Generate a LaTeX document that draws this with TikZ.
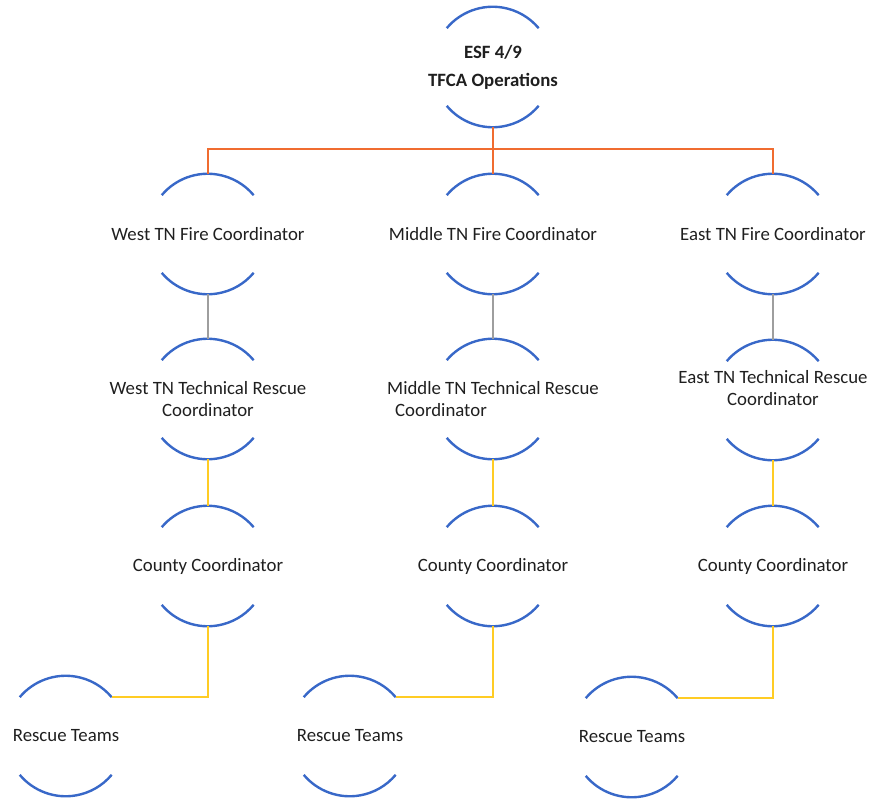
\documentclass[tikz,border=0pt]{standalone}
\usepackage{fontspec}
\setmainfont{Carlito}
\usetikzlibrary{positioning}
\definecolor{arcblue}{RGB}{56,104,200}
\definecolor{busorange}{RGB}{240,108,48}
\definecolor{linkgray}{RGB}{158,158,158}
\definecolor{linkyellow}{RGB}{255,204,36}

\begin{document}
\begin{tikzpicture}[x=0.5pt,y=-0.5pt,
   ring/.style={circle,minimum size=60pt,inner sep=0pt},
   lbl/.style={font=\fontsize{9.4}{10.6}\selectfont,align=center,text=black!88,inner sep=0pt},
   arcline/.style={draw=arcblue,line width=1.2pt},
   busline/.style={draw=busorange,line width=1pt},
   grayline/.style={draw=linkgray,line width=1pt},
   yellowline/.style={draw=linkyellow,line width=1pt}]
\useasboundingbox (0,0) rectangle (872,798);
% rings
\node[ring] (top) at (493,67) {};
\node[ring] (wf) at (208,234) {};
\node[ring] (mf) at (493,234) {};
\node[ring] (ef) at (773,234) {};
\node[ring] (wt) at (208,399) {};
\node[ring] (mt) at (493,399) {};
\node[ring] (et) at (773,400) {};
\node[ring] (wc) at (208,566) {};
\node[ring] (mc) at (493,566) {};
\node[ring] (ec) at (773,566) {};
\node[ring] (wr) at (66,736) {};
\node[ring] (mr) at (350,736) {};
\node[ring] (er) at (632,737) {};
\foreach \n in {top,wf,mf,ef,wt,mt,et,wc,mc,ec,wr,mr,er}
{
   \draw[arcline] (\n.140) arc[start angle=140,end angle=40,radius=30pt];
   \draw[arcline] (\n.220) arc[start angle=220,end angle=320,radius=30pt];
}
% texts
\node[lbl,font=\fontsize{9.4}{10.6}\selectfont\bfseries] (toptxt) at (top) {ESF 4/9\\[3.5pt]TFCA Operations};
\node[lbl] (wftxt) at (wf) {West TN Fire Coordinator};
\node[lbl] (mftxt) at (mf) {Middle TN Fire Coordinator};
\node[lbl] (eftxt) at (ef) {East TN Fire Coordinator};
\node[lbl] (wttxt) at (wt) {West TN Technical Rescue\\Coordinator};
\node[lbl,align=left] (mttxt) at (mt) {Middle TN Technical Rescue\\\hspace{4pt}Coordinator};
\node[lbl] (ettxt) at (773,388) {East TN Technical Rescue\\Coordinator};
\node[lbl] (wctxt) at (wc) {County Coordinator};
\node[lbl] (mctxt) at (mc) {County Coordinator};
\node[lbl] (ectxt) at (ec) {County Coordinator};
\node[lbl] (wrtxt) at (wr) {Rescue Teams};
\node[lbl] (mrtxt) at (mr) {Rescue Teams};
\node[lbl] (ertxt) at (er) {Rescue Teams};
% links
\coordinate (bus) at (493,149);
\draw[busline] (wf.north) |- (bus) -| (ef.north);
\draw[busline] (top.south) -- (mf.north);
\draw[grayline] (wf.south) -- (wt.north);
\draw[grayline] (mf.south) -- (mt.north);
\draw[grayline] (ef.south) -- (et.north);
\draw[yellowline] (wt.south) -- (wc.north);
\draw[yellowline] (mt.south) -- (mc.north);
\draw[yellowline] (et.south) -- (ec.north);
\draw[yellowline] (wc.south) |- (wr.40);
\draw[yellowline] (mc.south) |- (mr.40);
\draw[yellowline] (ec.south) |- (er.40);
\end{tikzpicture}
\end{document}
